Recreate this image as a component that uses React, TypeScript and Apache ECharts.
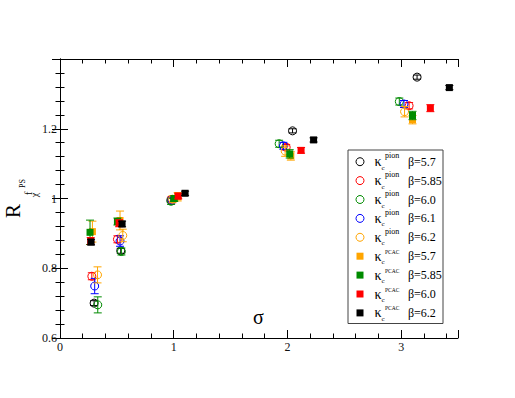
import React, { useEffect, useRef } from "react";
import * as echarts from "echarts";

// ---- data: [sigma, R, error] ----
const pion57 = [[0.300, 0.700, 0.007], [0.534, 0.850, 0.007], [0.975, 0.995, 0.006], [2.045, 1.194, 0.006], [3.140, 1.348, 0.006]];
const pion585 = [[0.280, 0.777, 0.010], [0.505, 0.883, 0.010], [0.980, 0.997, 0.008], [1.989, 1.147, 0.008], [3.070, 1.266, 0.009]];
const pion60 = [[0.332, 0.695, 0.023], [0.540, 0.848, 0.010], [0.977, 0.992, 0.009], [1.927, 1.157, 0.010], [2.984, 1.278, 0.010]];
const pion61 = [[0.305, 0.749, 0.022], [0.528, 0.878, 0.015], [0.985, 0.996, 0.008], [1.965, 1.151, 0.010], [3.025, 1.271, 0.010]];
const pion62 = [[0.330, 0.781, 0.023], [0.552, 0.894, 0.018], [0.990, 0.998, 0.010], [1.980, 1.136, 0.015], [3.030, 1.249, 0.015]];
const pcac57 = [[0.285, 0.905, 0.030], [0.528, 0.937, 0.027], [1.035, 1.005, 0.012], [2.030, 1.122, 0.012], [3.100, 1.226, 0.012]];
const pcac585 = [[0.264, 0.903, 0.035], [0.505, 0.934, 0.010], [1.005, 1.000, 0.008], [2.020, 1.128, 0.012], [3.100, 1.238, 0.012]];
const pcac60 = [[0.270, 0.878, 0.010], [0.520, 0.929, 0.010], [1.040, 1.007, 0.008], [2.120, 1.138, 0.008], [3.257, 1.259, 0.010]];
const pcac62 = [[0.273, 0.875, 0.008], [0.546, 0.927, 0.008], [1.100, 1.015, 0.006], [2.230, 1.168, 0.006], [3.424, 1.318, 0.006]];

const seriesData = [pion57, pion585, pion60, pion61, pion62, pcac57, pcac585, pcac60, pcac62];
const kappaSup = ["pion", "pion", "pion", "pion", "pion", "PCAC", "PCAC", "PCAC", "PCAC"];
const betaLabels = ["β=5.7", "β=5.85", "β=6.0", "β=6.1", "β=6.2", "β=5.7", "β=5.85", "β=6.0", "β=6.2"];
const colors = ["#000000", "#ff0000", "#008b00", "#0000ff", "#ffa500", "#ffa500", "#008b00", "#ff0000", "#000000"];
const hollow = [true, true, true, true, true, false, false, false, false];

const xMajorTicks = [0, 1, 2, 3];
const yTickLabels = ["0.6", "0.8", "1", "1.2"];

const SERIF = "'Liberation Serif', 'DejaVu Serif', serif";

function buildOption() {
  const series = seriesData.map((data, i) => ({
    type: "custom",
    name: betaLabels[i],
    xAxisIndex: 0,
    yAxisIndex: 0,
    dimensions: ["x", "y", "err"],
    encode: { x: 0, y: 1 },
    data,
    renderItem: (params: any, api: any) => {
      const x = api.value(0);
      const y = api.value(1);
      const e = api.value(2);
      const c = api.coord([x, y]);
      const t = api.coord([x, y + e]);
      const b = api.coord([x, y - e]);
      const cap = 4;
      const col = colors[i];
      const ls = { stroke: col, lineWidth: 1 };
      const children: any[] = [
        { type: "line", shape: { x1: c[0], y1: t[1], x2: c[0], y2: b[1] }, style: ls },
        { type: "line", shape: { x1: c[0] - cap, y1: t[1], x2: c[0] + cap, y2: t[1] }, style: ls },
        { type: "line", shape: { x1: c[0] - cap, y1: b[1], x2: c[0] + cap, y2: b[1] }, style: ls },
      ];
      if (hollow[i]) {
        children.push({ type: "circle", shape: { cx: c[0], cy: c[1], r: 4 }, style: { fill: "none", stroke: col, lineWidth: 1 } });
      } else {
        children.push({ type: "rect", shape: { x: c[0] - 3.5, y: c[1] - 3.5, width: 7, height: 7 }, style: { fill: col } });
      }
      return { type: "group", children };
    },
  }));

  const axisLine = { show: true, lineStyle: { color: "#000", width: 1 } };
  const majorX = (pos: string, labels: boolean) => ({
    type: "value", position: pos, min: 0, max: 3.5, interval: 1,
    axisLine, splitLine: { show: false },
    axisTick: { show: true, inside: true, length: 8, lineStyle: { color: "#000" } },
    axisLabel: {
      show: labels, margin: 3, fontFamily: SERIF, fontSize: 12, color: "#111",
      formatter: (v: number) => (xMajorTicks.includes(v) ? String(v) : ""),
    },
  });
  const minorX = (pos: string) => ({
    type: "value", position: pos, min: 0, max: 3.5, interval: 0.2,
    axisLine: { show: false }, splitLine: { show: false }, axisLabel: { show: false },
    axisTick: { show: true, inside: true, length: 4.5, lineStyle: { color: "#000" } },
  });
  const yAx = (pos: string, labels: boolean) => ({
    type: "value", position: pos, min: 0.6, max: 1.4, interval: 0.2,
    axisLine, splitLine: { show: false },
    axisTick: { show: true, inside: true, length: 8, lineStyle: { color: "#000" } },
    minorTick: { show: true, splitNumber: 5, length: 4.5, lineStyle: { color: "#000" } },
    minorSplitLine: { show: false },
    axisLabel: {
      show: labels, margin: 3, fontFamily: SERIF, fontSize: 12, color: "#111",
      formatter: (v: number) => {
        const s = String(Math.round(v * 10) / 10);
        return yTickLabels.includes(s) ? s : "";
      },
    },
  });

  // legend graphic
  const legendChildren: any[] = [
    { type: "rect", shape: { x: 348, y: 150, width: 95, height: 173.5 }, style: { fill: "#fff", stroke: "#444", lineWidth: 1 } },
  ];
  betaLabels.forEach((lab, i) => {
    const cy = 161.7 + i * 18.9;
    if (hollow[i]) {
      legendChildren.push({ type: "circle", shape: { cx: 360, cy, r: 4 }, style: { fill: "none", stroke: colors[i], lineWidth: 1 } });
    } else {
      legendChildren.push({ type: "rect", shape: { x: 356.5, y: cy - 3.5, width: 7, height: 7 }, style: { fill: colors[i] } });
    }
    legendChildren.push({ type: "text", x: 374.5, y: cy, style: { text: "κ", fontFamily: SERIF, fontSize: 14, fill: "#000", textAlign: "left", textVerticalAlign: "middle" } });
    legendChildren.push({ type: "text", x: 381.5, y: cy + 6, style: { text: "c", fontFamily: SERIF, fontSize: 7, fill: "#000", textAlign: "left", textVerticalAlign: "middle" } });
    const isPion = kappaSup[i] === "pion";
    legendChildren.push({ type: "text", x: 385, y: cy + (isPion ? -6 : -4.5), style: { text: kappaSup[i], fontFamily: SERIF, fontSize: isPion ? 8 : 5.5, fill: "#000", textAlign: "left", textVerticalAlign: "middle" } });
    legendChildren.push({ type: "text", x: 408, y: cy, style: { text: lab, fontFamily: SERIF, fontSize: 12, fill: "#000", textAlign: "left", textVerticalAlign: "middle" } });
  });

  const graphic: any[] = [
    { type: "group", z: 100, children: legendChildren },
    { type: "text", x: 258.5, y: 317, style: { text: "σ", fontFamily: SERIF, fontSize: 20, fill: "#000", textAlign: "center", textVerticalAlign: "middle" } },
    { type: "text", x: 13, y: 211, rotation: Math.PI / 2, style: { text: "R", fontFamily: SERIF, fontSize: 21, fill: "#000", textAlign: "center", textVerticalAlign: "middle" } },
    { type: "text", x: 28, y: 193.5, rotation: Math.PI / 2, style: { text: "f", fontFamily: SERIF, fontSize: 11, fill: "#000", textAlign: "center", textVerticalAlign: "middle" } },
    { type: "text", x: 22.5, y: 183.5, rotation: Math.PI / 2, style: { text: "PS", fontFamily: SERIF, fontSize: 8, fill: "#000", textAlign: "center", textVerticalAlign: "middle" } },
    { type: "text", x: 34.5, y: 195, rotation: Math.PI / 2, style: { text: "χ", fontFamily: SERIF, fontSize: 10, fill: "#000", textAlign: "center", textVerticalAlign: "middle" } },
  ];

  return {
    animation: false,
    backgroundColor: "#fff",
    grid: { left: 60, top: 59, width: 398, height: 279, containLabel: false },
    xAxis: [majorX("bottom", true), majorX("top", false), minorX("bottom"), minorX("top")],
    yAxis: [yAx("left", true), yAx("right", false)],
    series,
    graphic,
  };
}

export default function App() {
  const ref = useRef<HTMLDivElement>(null);
  useEffect(() => {
    if (!ref.current) return;
    const chart = echarts.init(ref.current, null, { renderer: "svg" });
    chart.setOption(buildOption() as any);
    return () => chart.dispose();
  }, []);
  return <div ref={ref} style={{ position: "fixed", left: 0, top: 0, width: 515, height: 398 }} />;
}
